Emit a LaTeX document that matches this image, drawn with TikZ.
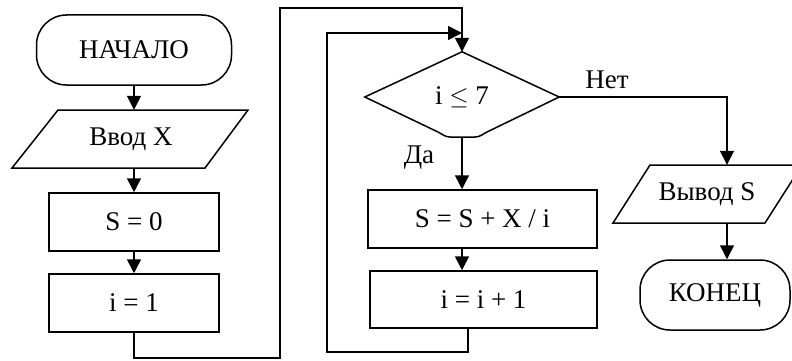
\documentclass[tikz,border=0pt]{standalone}
\usepackage{fontspec}
\setmainfont{Liberation Serif}
\usetikzlibrary{arrows.meta,shapes.geometric}
\begin{document}
\begin{tikzpicture}[x=1pt,y=-1pt,
  every node/.style={font=\fontsize{27}{32}\selectfont},
  ln/.style={line width=1.5pt},
  arr/.style={ln,-{Triangle[length=14pt,width=14pt]}},
  term/.style={draw,ln,rectangle,rounded corners=30pt,inner sep=0pt},
  proc/.style={draw,ln,rectangle,inner sep=0pt,minimum height=58pt},
  iobox/.style={rectangle,inner sep=0pt,minimum height=58pt,minimum width=110pt},
  lbl/.style={inner sep=0pt}]
\useasboundingbox (0,0) rectangle (792,361);
% left column
\node[term,minimum width=195pt,minimum height=70pt] (start) at (134,50) {НАЧАЛО};
\node[iobox] (vvod) at (131,139) {Ввод X};
\draw[ln] (58,110) -- (248,110) -- (205,168) -- (12,168) -- cycle;
\node[proc,minimum width=170pt] (s0) at (134,222) {S = 0};
\node[proc,minimum width=170pt] (i1) at (134,303) {i = 1};
% condition
\node[diamond,draw=none,minimum width=194pt,minimum height=90pt,inner sep=0pt] (cond) at (462,97) {i \(\leq\) 7};
\draw[ln] (cond.north) -- (cond.east) -- (487,132)
  .. controls (483,134) and (480,137) .. (475,137) -- (450,137)
  .. controls (445,137) and (442,134) .. (438,132) -- (cond.west) -- cycle;
\coordinate (condb) at (462,137);
% loop body
\node[proc,minimum width=229pt] (body) at (482.5,219) {S = S + X / i};
\node[proc,minimum width=227pt,minimum height=57pt] (inc) at (483.5,299.5) {i = i + 1};
% output and end
\node[iobox,minimum width=120pt] (out) at (707,194) {Вывод S};
\draw[ln] (650,165) -- (802,165) -- (765,223) -- (613,223) -- cycle;
\node[term,minimum width=150pt,minimum height=70pt] (fin) at (715,295) {КОНЕЦ};
% labels
\node[lbl] (da) at (419,158) {Да};
\node[lbl] (net) at (607,80) {Нет};
% helper coordinates
\coordinate (l1) at (280,358);
\coordinate (top1) at (280,8);
\coordinate (l2) at (468,352);
\coordinate (l2c) at (327,33);
\coordinate (m) at (462,33);
\coordinate (ox) at (727,0);
% connectors
\draw[arr] (start) -- (start |- vvod.north);
\draw[arr] (start |- vvod.south) -- (s0);
\draw[arr] (s0) -- (i1);
\draw[arr] (i1.south) |- (l1) -- (top1) -| (cond.north);
\draw[arr] (condb) -- (condb |- body.north);
\draw[arr] (condb |- body.south) -- (condb |- inc.north);
\draw[arr] (l2 |- inc.south) -- (l2) -| (l2c) -- (m);
\draw[arr] (cond.east) -| (ox |- out.north);
\draw[arr] (ox |- out.south) -- (ox |- fin.north);
\end{tikzpicture}
\end{document}
